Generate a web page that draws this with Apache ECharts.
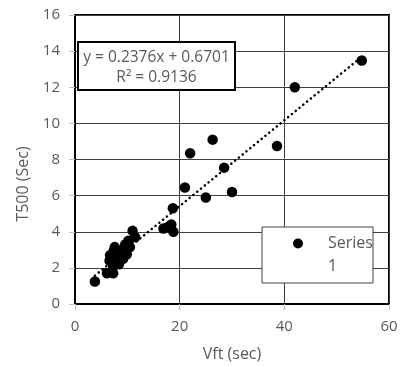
<!doctype html>
<html>
<head>
<meta charset="utf-8">
<script src="https://cdn.jsdelivr.net/npm/echarts@6/dist/echarts.min.js"></script>
</head>
<body style="margin:0;background:#fff;">
<div id="chart" style="width:402px;height:367px;"></div>
<script>
// values
const vft = [3.8, 6.1, 7.3, 7.3, 8.0, 9.2, 6.7, 8.6, 8.0, 7.6, 9.6, 10.5, 11.5, 11.0, 6.6, 7.0, 8.4, 9.0, 9.9, 7.4, 10.2, 16.9, 17.8, 18.8, 18.4, 18.7, 21.0, 25.0, 22.0, 26.3, 28.5, 30.0, 38.6, 42.0, 54.8];
const t500 = [1.25, 1.7, 1.7, 2.1, 2.35, 2.5, 2.7, 2.8, 2.9, 3.15, 3.3, 3.15, 3.7, 4.05, 2.4, 2.55, 2.2, 3.0, 2.75, 2.95, 3.5, 4.18, 4.27, 4.0, 4.4, 5.3, 6.45, 5.9, 8.35, 9.1, 7.55, 6.2, 8.75, 12.0, 13.48];
const slope = 0.2376;
const intercept = 0.6701;
const rSquared = 0.9136;
const trendX = [3.8, 54.8];

const font = 'Open Sans';
const grey = '#595959';

const chart = echarts.init(document.getElementById('chart'));
chart.setOption({
  animation: false,
  textStyle: { fontFamily: font },
  grid: {
    left: 75, right: 13, top: 15, bottom: 62,
    show: true, borderColor: '#000', borderWidth: 2, backgroundColor: 'transparent'
  },
  xAxis: {
    type: 'value', min: 0, max: 60, interval: 20,
    name: 'Vft (sec)', nameLocation: 'middle', nameGap: 42,
    nameTextStyle: { color: grey, fontSize: 16, fontFamily: font },
    axisLine: { lineStyle: { color: '#000', width: 2 } },
    axisTick: { show: true, length: 6, lineStyle: { color: '#bfbfbf' } },
    axisLabel: { color: grey, fontSize: 15, margin: 15 },
    splitLine: { lineStyle: { color: '#404040', width: 1 } }
  },
  yAxis: {
    type: 'value', min: 0, max: 16, interval: 2,
    axisLine: { show: true, lineStyle: { color: '#000', width: 2 } },
    axisTick: { show: true, length: 6, lineStyle: { color: '#bfbfbf' } },
    axisLabel: { color: grey, fontSize: 15, margin: 15 },
    splitLine: { lineStyle: { color: '#404040', width: 1 } }
  },
  legend: {
    data: ['Series 1'],
    left: 293, top: 209, padding: 0,
    selectedMode: false,
    icon: 'circle', itemWidth: 10, itemHeight: 10,
    // empty first line keeps the marker level with "Series"
    formatter: () => ' \nSeries\n1',
    textStyle: { color: grey, fontSize: 16, lineHeight: 23, padding: [0, 0, 0, 20], fontFamily: font },
    z: 6
  },
  graphic: [
    {
      type: 'text', z: 6,
      x: 23, y: 184, rotation: Math.PI / 2,
      style: {
        text: 'T500 (Sec)', fill: grey, font: '16px "' + font + '"',
        align: 'center', verticalAlign: 'middle'
      }
    },
    {
      type: 'rect', z: 5,
      shape: { x: 262, y: 227, width: 111, height: 56 },
      style: { fill: '#fff', stroke: '#404040', lineWidth: 1 }
    },
    {
      type: 'rect', z: 5,
      shape: { x: 78, y: 42, width: 157, height: 48 },
      style: { fill: '#fff', stroke: '#000', lineWidth: 2 }
    },
    {
      type: 'text', z: 6,
      x: 156.5, y: 68,
      style: {
        text: 'y = ' + slope + 'x + ' + intercept + '\nR² = ' + rSquared,
        fill: grey, font: '15.5px "' + font + '"', lineHeight: 20,
        align: 'center', verticalAlign: 'middle'
      }
    }
  ],
  series: [
    {
      name: 'Series 1',
      type: 'scatter',
      symbol: 'circle',
      symbolSize: 10.5,
      itemStyle: { color: '#000', opacity: 1 },
      data: vft.map((x, i) => [x, t500[i]]),
      z: 3
    },
    {
      name: 'Linear',
      type: 'line',
      symbol: 'none',
      silent: true,
      lineStyle: { color: '#000', width: 2.5, type: [0.1, 4.8], cap: 'round' },
      data: trendX.map(x => [x, slope * x + intercept]),
      z: 4
    }
  ]
});
</script>
</body>
</html>
